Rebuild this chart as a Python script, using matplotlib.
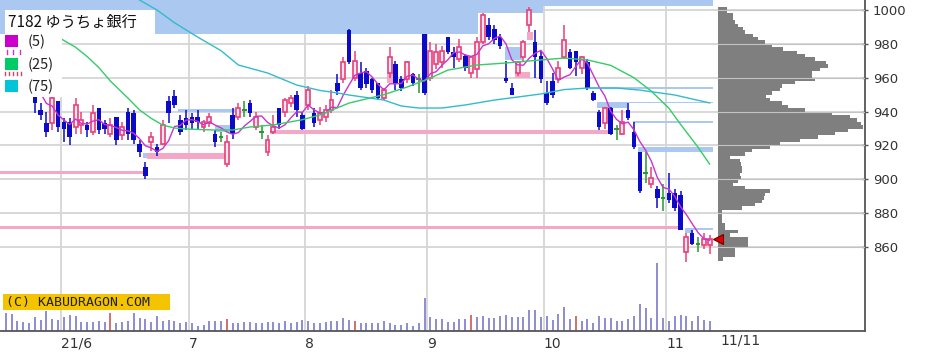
import matplotlib
matplotlib.use("Agg")
import matplotlib.pyplot as plt
from matplotlib.patches import Rectangle
import numpy as np
import pandas as pd

# ─── canvas ──────────────────────────────────────────────────────────────────
DPI = 100
W, H = 926, 357
PLOT_R, PLOT_B = 865, 331          # right / bottom edge of the chart (px)

# ─── colours ─────────────────────────────────────────────────────────────────
UP_EDGE = "#e8407a"
UP_FACE = "#fde6ee"
DOWN = "#0a0ac8"
DOJI = "#229933"
MA5_C = "#cc33cc"
MA25_C = "#33cc66"
MA75_C = "#33bbcc"
GAP_DN = "#aac8f0"
GAP_UP = "#f4a8c6"
GRID = "#d6d6d6"
VOL_C = "#8c8cd0"
VOL_SQ = "#d07070"
PROF_C = "#7f7f7f"

# ─── data: daily candles 2021/5/18 - 2021/11/11 ──────────────────────────────
OPEN = [968, 965, 960, 958, 956, 950, 941, 933, 933, 946,
        934, 934, 931, 932, 932, 928, 942, 933, 927, 937,
        926, 940, 939, 921, 907, 922, 919, 921, 946, 949,
        935, 936, 937, 937, 931, 933, 927, 925, 909, 938,
        937, 941, 945, 931, 928, 916, 928, 942, 940, 945,
        950, 938, 944, 939, 935, 937, 941, 957, 959, 988,
        960, 963, 964, 959, 957, 948, 963, 968, 959, 959,
        962, 959, 986, 960, 968, 969, 984, 975, 971, 973,
        963, 965, 981, 991, 989, 984, 960, 954, 963, 972,
        991, 981, 973, 951, 958, 959, 972, 975, 976, 966,
        969, 951, 940, 933, 942, 930, 927, 941, 928, 916,
        904, 897, 894, 889, 892, 892, 891, 857, 868, 862,
        861, 861]
HIGH = [972, 968, 963, 962, 959, 951, 945, 940, 951, 946,
        936, 936, 948, 940, 934, 944, 942, 935, 936, 937,
        934, 942, 941, 923, 910, 928, 921, 935, 949, 953,
        938, 941, 939, 941, 935, 939, 929, 928, 926, 942,
        945, 946, 947, 940, 932, 926, 938, 942, 948, 950,
        952, 940, 955, 942, 943, 944, 953, 962, 972, 989,
        976, 969, 966, 960, 957, 954, 978, 970, 961, 970,
        963, 962, 986, 981, 980, 979, 984, 978, 983, 974,
        973, 984, 998, 995, 991, 986, 970, 957, 970, 982,
        1002, 988, 976, 958, 963, 970, 991, 977, 976, 973,
        971, 952, 941, 943, 943, 932, 941, 945, 934, 916,
        916, 907, 896, 897, 904, 894, 893, 868, 870, 866,
        868, 867]
LOW = [962, 958, 954, 953, 950, 939, 935, 925, 929, 928,
       922, 920, 927, 927, 925, 926, 927, 927, 925, 920,
       923, 923, 921, 913, 900, 917, 914, 920, 933, 942,
       926, 929, 930, 930, 928, 931, 919, 922, 907, 924,
       935, 937, 937, 929, 924, 914, 927, 930, 937, 943,
       937, 929, 941, 931, 932, 934, 939, 950, 957, 968,
       958, 953, 954, 951, 947, 947, 960, 953, 952, 957,
       955, 951, 950, 958, 965, 966, 974, 966, 969, 964,
       960, 960, 980, 982, 980, 977, 957, 950, 961, 970,
       987, 960, 957, 944, 948, 957, 971, 965, 961, 962,
       953, 946, 929, 930, 926, 923, 926, 935, 918, 892,
       898, 895, 883, 881, 886, 881, 870, 851, 861, 857,
       859, 856]
CLOSE = [965, 960, 958, 956, 957, 945, 938, 928, 948, 931,
         930, 925, 944, 935, 929, 939, 929, 930, 932, 923,
         931, 927, 923, 916, 902, 925, 916, 932, 939, 944,
         928, 932, 933, 934, 934, 937, 922, 925, 922, 927,
         942, 941, 939, 937, 928, 923, 931, 932, 947, 948,
         941, 930, 953, 933, 939, 941, 947, 952, 969, 969,
         970, 954, 956, 953, 948, 953, 972, 956, 954, 969,
         957, 959, 951, 976, 975, 976, 975, 972, 978, 966,
         972, 981, 997, 984, 982, 979, 958, 950, 969, 981,
         1000, 972, 959, 945, 950, 966, 982, 966, 969, 972,
         954, 947, 931, 942, 927, 930, 934, 936, 919, 893,
         904, 901, 889, 889, 888, 883, 870, 866, 862, 862,
         865, 865]
VOLUME = [5300, 5000, 3000, 2600, 2300, 4100, 3300, 6100, 3500, 3300,
          4300, 4800, 4500, 2800, 2800, 2800, 3100, 2800, 5500, 2300,
          2800, 3100, 5300, 3800, 3500, 2800, 4500, 3100, 3300, 3100,
          2300, 2800, 2300, 1500, 1800, 3100, 3100, 3100, 3500, 2300,
          2500, 2800, 2700, 2500, 2500, 2800, 2800, 2300, 3100, 2500,
          2800, 3300, 3100, 2500, 2300, 2800, 3100, 3100, 4000, 3300,
          3100, 2300, 2300, 2300, 2300, 3100, 2300, 1800, 1800, 2300,
          1500, 2300, 9800, 4100, 3500, 3500, 2800, 2800, 3500, 3500,
          4800, 4300, 4500, 3800, 3800, 4500, 4800, 4300, 4300, 4300,
          6300, 6300, 4200, 4500, 3300, 5000, 7100, 3600, 4500, 3000,
          3600, 2500, 4500, 4000, 4000, 3000, 3100, 3600, 4500, 8100,
          6800, 4000, 20300, 4000, 3100, 4600, 4800, 4500, 3100, 4500,
          3300, 3100]
SQ_DAYS = [18, 38, 60, 80, 98]          # red volume bars

MONTH_START = [10, 32, 52, 73, 93, 114]
MONTH_LABELS = ["21/6", "7", "8", "9", "10", "11"]

# moving averages (25 / 75 need older history)
MA25_IDX = [5, 9, 12, 14, 16, 18, 21, 23, 25, 27, 29, 31, 36, 39, 42, 46, 51,
            54, 59, 65, 69, 73, 76, 81, 86, 92, 96, 100, 104, 108, 111, 114,
            116, 119, 121]
MA25_VAL = [990, 984, 978, 972.5, 966, 958, 948, 941, 936, 932, 930.3, 929.7,
            929.1, 929.1, 930.9, 932.1, 935.2, 938, 945, 950, 954.5, 959.8,
            964.5, 967.5, 968.7, 970.5, 971.6, 970.5, 967.3, 960, 952, 942,
            932.5, 919, 909]
MA75_IDX = [18, 23, 26, 29, 33, 37, 40, 45, 50, 54, 57, 59, 65, 68, 71, 75, 79,
            84, 88, 92, 96, 100, 105, 109, 115, 121]
MA75_VAL = [1020, 1005.9, 1000, 992.5, 984, 976, 967.5, 962.8, 955.7, 952.5,
            951, 949.8, 946.8, 943.3, 942.1, 942.1, 943.9, 946.8, 948.6, 950.4,
            953, 953.9, 953.9, 952.7, 949.8, 945.1]

# open price gaps (窓): start / end day, low / high price, kind
GAP_X0 = [-1.5, 81.2, 92.4, 23.6, 29.6, 36.0, 85.8, 101.6, 106.8, 100.4,
          107.8, 108.7, 116.8, 118.1,
          -1.5, 24.3, 45.4, -1.5, 65.5, 87.6, 89.6]
GAP_X1 = [81.2, 92.4, 121.6, 24.5, 39.4, 39.4, 88.8, 106.8, 121.6, 121.6,
          121.6, 121.6, 118.1, 121.6,
          23.6, 37.7, 103.9, 115.6, 66.6, 90.1, 90.6]
GAP_LO = [985.8, 998.2, 1002.4, 912.6, 940.0, 928.0, 970.5, 942.1, 944.8, 953.4,
          933.2, 916.1, 868.3, 870.0,
          903.1, 912.2, 926.5, 870.6, 956.9, 959.8, 982.3]
GAP_HI = [1012, 1012, 1012, 915.5, 941.6, 932.0, 978.0, 945.7, 945.7, 954.6,
          934.4, 919.1, 871.2, 871.2,
          904.9, 915.5, 929.0, 872.4, 963.4, 963.4, 987.0]
GAP_KIND = ["dn"] * 14 + ["up"] * 7

# price-volume profile at 11/11 (bins of 2 yen, lower edge)
PROFILE_LEVELS = list(range(852, 1002, 2))
PROFILE_VOL = [5, 17, 17, 17, 30, 30, 30, 12, 20, 7,
               7, 4, 4, 4, 4, 24, 37, 44, 46, 47,
               52, 27, 15, 20, 23, 22, 24, 24, 23, 22,
               12, 27, 34, 52, 62, 82, 100, 117, 130, 145,
               143, 139, 132, 114, 87, 70, 64, 52, 48, 54,
               62, 64, 77, 97, 94, 94, 102, 110, 108, 97,
               87, 79, 65, 54, 47, 40, 35, 27, 25, 20,
               17, 15, 15, 9, 9]

TITLE = "7182 ゆうちょ銀行"
CJK = ["Noto Sans CJK JP", "DejaVu Sans"]


def px_to_i(px):
    """x pixel -> day index (5.817 px per day, day 0 at 5.74 px)."""
    return (px - 5.74) / 5.817


def py_to_price(py):
    """y pixel -> price (1000 at 10 px, 20 yen per 33.86 px)."""
    return 1000 - (py - 10) * 20 / 33.86


fig = plt.figure(figsize=(W / DPI, H / DPI), dpi=DPI)
fig.patch.set_facecolor("white")
ax = fig.add_axes([0, (H - PLOT_B) / H, PLOT_R / W, PLOT_B / H])
ax.set_xlim(px_to_i(0), px_to_i(PLOT_R))
ax.set_ylim(py_to_price(PLOT_B), py_to_price(0))

# volume (twin axis, created first so the price ticks can go right after)
x = np.arange(len(CLOSE))
ax_v = ax.twinx()
ax_v.set_ylim(0, 99300)
vol_colors = [VOL_SQ if i in SQ_DAYS else VOL_C for i in x]
ax_v.vlines(x, 0, VOLUME, colors=vol_colors, lw=1.4)
ax_v.axis("off")

# grid
price_ticks = [860, 880, 900, 920, 940, 960, 980, 1000]
for p in price_ticks:
    ax.axhline(p, color=GRID, lw=1.3, zorder=0)
month_x = [m - 0.5 for m in MONTH_START]
for mx in month_x:
    ax.axvline(mx, color=GRID, lw=1.3, zorder=0)

# gaps
for x0, x1, lo, hi, k in zip(GAP_X0, GAP_X1, GAP_LO, GAP_HI, GAP_KIND):
    ax.fill_between([x0, x1], lo, hi, color=GAP_DN if k == "dn" else GAP_UP,
                    lw=0, zorder=1)

# candles
o, h, l, c = (np.array(a, dtype=float) for a in (OPEN, HIGH, LOW, CLOSE))
up, dn, dj = c > o, c < o, c == o
ax.vlines(x[up], l[up], h[up], color=UP_EDGE, lw=1.1, zorder=3)
ax.bar(x[up], (c - o)[up], bottom=o[up], width=0.68, facecolor=UP_FACE,
       edgecolor=UP_EDGE, lw=1.2, zorder=4)
ax.vlines(x[dn], l[dn], h[dn], color=DOWN, lw=1.1, zorder=3)
ax.bar(x[dn], (c - o)[dn], bottom=o[dn], width=0.78, color=DOWN, lw=0, zorder=4)
ax.vlines(x[dj], l[dj], h[dj], color=DOJI, lw=1.1, zorder=3)
ax.hlines(c[dj], x[dj] - 0.4, x[dj] + 0.4, color=DOJI, lw=1.4, zorder=4)

# moving averages
ma5 = pd.Series(c).rolling(5).mean()
ax.plot(x, ma5, color=MA5_C, lw=1, zorder=5)
ax.plot(MA25_IDX, MA25_VAL, color=MA25_C, lw=1, zorder=5)
ax.plot(MA75_IDX, MA75_VAL, color=MA75_C, lw=1, zorder=5)

# axes cosmetics
for s in ("left", "top"):
    ax.spines[s].set_visible(False)
for s in ("right", "bottom"):
    ax.spines[s].set_color("#555555")
    ax.spines[s].set_linewidth(1.3)
ax.yaxis.set_ticks_position("right")
ax.yaxis.set_label_position("right")
ax.set_yticks(price_ticks)
ax.set_yticklabels([str(p) for p in price_ticks])
ax.tick_params(axis="y", which="both", left=False, labelleft=False,
               right=True, labelright=True, direction="inout", length=5,
               width=1, color="#555555", labelsize=9.5, labelcolor="#333333",
               pad=3)
ax.set_xticks(month_x)
ax.set_xticklabels(MONTH_LABELS, ha="left")
ax.tick_params(axis="x", length=0, labelsize=10, labelcolor="#333333", pad=4)

# volume profile
ax_p = fig.add_axes([718 / W, (H - PLOT_B) / H, (PLOT_R - 718) / W, PLOT_B / H])
ax_p.set_ylim(ax.get_ylim())
ax_p.set_xlim(0, PLOT_R - 718)
ax_p.barh(PROFILE_LEVELS, PROFILE_VOL, height=2, align="edge", color=PROF_C,
          lw=0, zorder=2)
for p in price_ticks:
    ax_p.axhline(p, color="#c4c4c4", lw=0.8, zorder=3)
ax_p.plot([0], [CLOSE[-1]], marker="<", ms=7, color="#e00000", mec="#700000",
          mew=0.8, clip_on=False, zorder=4)
ax_p.axis("off")

# overlay in pixel coordinates (0,0 = top-left)
ov = fig.add_axes([0, 0, 1, 1])
ov.set_xlim(0, W)
ov.set_ylim(H, 0)
ov.axis("off")

# stacking: volume < price < profile < overlay
ax_v.set_zorder(0)
ax.set_zorder(1)
ax.patch.set_visible(False)
ax_p.set_zorder(2)
ov.set_zorder(3)

ov.add_patch(Rectangle((5, 10), 150, 25, facecolor="white", lw=0))
ov.text(8, 22.5, TITLE, family=CJK, fontsize=11, va="center", color="#111111")
ov.add_patch(Rectangle((0, 35), 62, 62, facecolor="white", lw=0))
for yy, col, lab in [(35, "#cc00cc", "(5)"), (58, "#00cc66", "(25)"),
                     (80, "#00c4d8", "(75)")]:
    ov.add_patch(Rectangle((5, yy), 13, 12, facecolor=col, lw=0))
    ov.text(28, yy + 6.5, lab, family=CJK, fontsize=10.5, va="center",
            color="#222222")
for xx in (7, 13, 20):
    ov.plot([xx, xx], [50, 54], color="#cc33cc", lw=1)
for xx in (5, 9, 13, 17, 21):
    ov.plot([xx, xx], [72, 75], color="#e04060", lw=1)

ov.add_patch(Rectangle((3, 294), 167, 16, facecolor="#f5c400", lw=0))
ov.text(6, 302.5, "(C) KABUDRAGON.COM", family="DejaVu Sans Mono",
        fontsize=9.5, va="center", color="#222222")
ov.text(720, 341, "11/11", fontsize=10, va="center", color="#333333")

fig.savefig("out.png", dpi=DPI, facecolor="white")
